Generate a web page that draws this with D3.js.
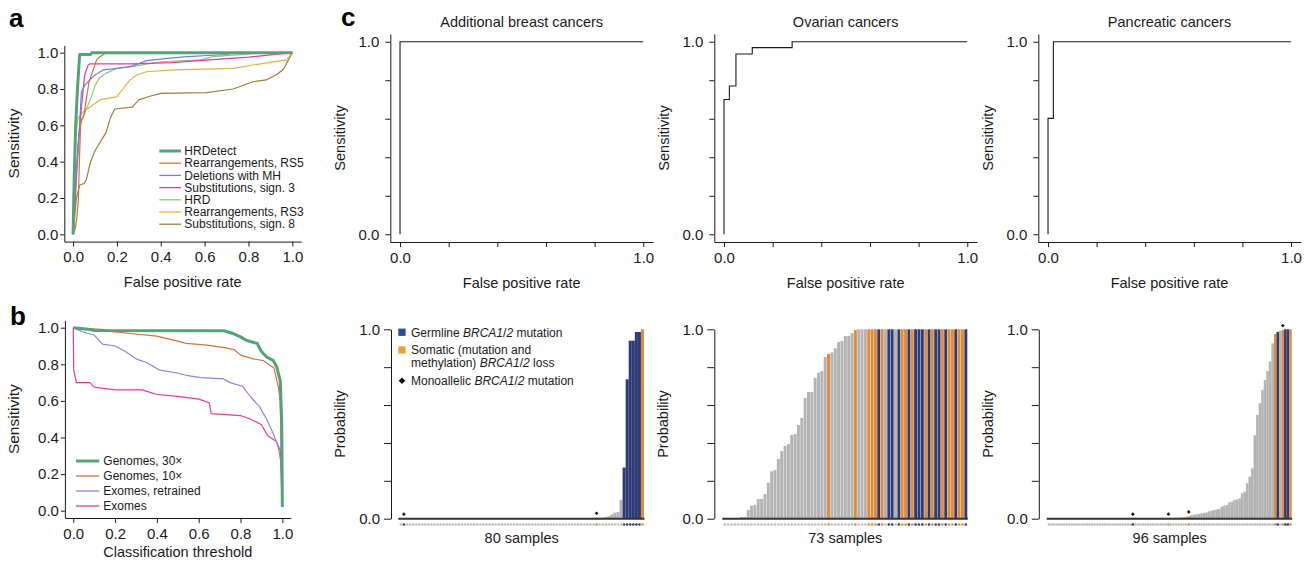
<!DOCTYPE html>
<html>
<head>
<meta charset="utf-8">
<script src="https://cdn.jsdelivr.net/npm/d3@7"></script>
<style>
  body { margin: 0; background: #fff; }
  svg { font-family: "Liberation Sans", Arial, Helvetica, sans-serif; }
  .axis text { font-size: 15px; fill: #1a1a1a; }
  .axis path, .axis line { stroke: #1a1a1a; stroke-width: 1; }
  .lab { font-size: 14.5px; fill: #1a1a1a; }
  .leg { font-size: 12px; fill: #1a1a1a; }
  .panel { font-size: 26px; font-weight: bold; fill: #000; }
</style>
</head>
<body>
<svg id="fig" width="1314" height="562"></svg>
<script>
// ---- a: ROC curves, [false positive rate, sensitivity]
const rocHRDetect = [[0,0],[0.005,0.3],[0.012,0.6],[0.02,0.8],[0.03,0.99],[0.08,0.99],[0.085,1],[1,1]];
const rocRS5 = [[0,0],[0.01,0.03],[0.018,0.1],[0.024,0.19],[0.03,0.45],[0.035,0.62],[0.05,0.66],[0.06,0.74],[0.073,0.84],[0.09,0.9],[0.107,0.96],[0.12,0.975],[0.15,1],[1,1]];
const rocDelMH = [[0,0],[0.008,0.2],[0.015,0.35],[0.026,0.52],[0.038,0.785],[0.053,0.82],[0.076,0.85],[0.1,0.877],[0.137,0.905],[0.2,0.914],[0.26,0.923],[0.3,0.94],[0.335,0.956],[0.43,0.969],[0.52,0.978],[0.7,0.99],[0.72,0.996],[1,1]];
const rocSub3 = [[0,0],[0.01,0.2],[0.023,0.5],[0.043,0.76],[0.053,0.877],[0.068,0.93],[0.076,0.938],[0.27,0.938],[0.45,0.945],[0.62,0.96],[0.8,0.975],[1,1]];
const rocHRD = [[0,0],[0.015,0.3],[0.03,0.59],[0.053,0.666],[0.084,0.758],[0.1,0.82],[0.12,0.86],[0.15,0.886],[0.2,0.914],[0.27,0.923],[0.4,0.95],[0.58,0.96],[0.64,0.978],[0.88,1],[1,1]];
const rocRS3 = [[0,0],[0.003,0.33],[0.012,0.556],[0.023,0.64],[0.046,0.675],[0.076,0.7],[0.122,0.74],[0.167,0.75],[0.2,0.758],[0.22,0.79],[0.26,0.85],[0.29,0.877],[0.335,0.895],[0.46,0.905],[0.73,0.914],[0.82,0.932],[0.974,0.96],[1,1]];
const rocSub8 = [[0,0],[0.008,0.1],[0.015,0.2],[0.03,0.27],[0.05,0.28],[0.06,0.3],[0.08,0.4],[0.1,0.46],[0.13,0.52],[0.15,0.56],[0.17,0.64],[0.19,0.69],[0.27,0.7],[0.3,0.74],[0.35,0.76],[0.4,0.776],[0.61,0.78],[0.73,0.8],[0.82,0.84],[0.88,0.85],[0.93,0.88],[0.96,0.91],[1,1]];
const namesA = ["HRDetect", "Rearrangements, RS5", "Deletions with MH", "Substitutions, sign. 3", "HRD", "Rearrangements, RS3", "Substitutions, sign. 8"];

// ---- b: sensitivity vs classification threshold
const thrGenomes30 = [[0,1],[0.08,0.99],[0.1,0.985],[0.72,0.984],[0.76,0.97],[0.8,0.95],[0.83,0.93],[0.88,0.914],[0.9,0.87],[0.925,0.84],[0.957,0.82],[0.973,0.787],[0.99,0.71],[0.997,0.48],[1,0.02]];
const thrGenomes10 = [[0,1],[0.15,0.99],[0.19,0.978],[0.4,0.954],[0.45,0.94],[0.54,0.914],[0.64,0.905],[0.73,0.89],[0.77,0.88],[0.8,0.85],[0.86,0.83],[0.91,0.82],[0.96,0.78],[0.98,0.68],[0.99,0.6],[1,0.02]];
const thrExomesRetrained = [[0,1],[0.05,0.975],[0.1,0.96],[0.14,0.91],[0.2,0.9],[0.25,0.87],[0.3,0.83],[0.35,0.81],[0.41,0.77],[0.49,0.754],[0.54,0.74],[0.61,0.727],[0.72,0.72],[0.75,0.7],[0.81,0.68],[0.85,0.62],[0.89,0.57],[0.925,0.5],[0.957,0.42],[0.98,0.35],[0.997,0.24],[1,0.02]];
const thrExomes = [[0,1],[0.002,0.77],[0.015,0.7],[0.08,0.7],[0.1,0.675],[0.2,0.66],[0.33,0.66],[0.4,0.635],[0.5,0.625],[0.6,0.61],[0.65,0.59],[0.66,0.53],[0.8,0.52],[0.85,0.5],[0.9,0.47],[0.93,0.41],[0.97,0.38],[0.99,0.33],[1,0.02]];
const namesB = ["Genomes, 30\u00d7", "Genomes, 10\u00d7", "Exomes, retrained", "Exomes"];

// ---- c: validation cohorts
const titlesC = ["Additional breast cancers", "Ovarian cancers", "Pancreatic cancers"];
const rocBreast = [[0,0],[0,1],[1,1]];
const rocOvarian = [[0,0],[0,0.7],[0.022,0.77],[0.049,0.936],[0.116,0.969],[0.28,1],[1,1]];
const rocPancreatic = [[0,0],[0,0.602],[0.022,1],[1,1]];

const probBreast = [0,0,0,0,0,0,0,0,0,0, 0,0,0,0,0,0,0,0,0,0, 0,0,0,0,0,0,0,0,0,0, 0,0,0,0,0,0,0,0,0,0,
  0,0,0,0,0,0,0,0,0,0, 0,0,0,0,0,0,0,0,0,0, 0,0,0,0.003,0.005,0.005,0.006,0.008,0.014,0.023,
  0.032,0.035,0.1,0.27,0.736,0.94,0.94,0.986,0.986,1.0];
const germBreast = [1,73,74,75,76,77,78];
const somBreast = [64,79];
const monoBreast = [1,64];

const probOvarian = [0,0,0,0,0.003,0.009,0.009,0.046,0.069,0.072, 0.104,0.104,0.13,0.19,0.25,0.257,0.315,0.357,0.384,0.394,
  0.442,0.447,0.495,0.532,0.637,0.669,0.669,0.743,0.771,0.78, 0.854,0.87,0.878,0.9,0.933,0.938,0.965,0.965,0.98,0.996,
  1,1,1,1,1,1,1,1,1,1, 1,1,1,1,1,1,1,1,1,1, 1,1,1,1,1,1,1,1,1,1, 1,1,1];
const germOvarian = [46,49,50,52,55,57,58,59,61,63,64,66,69,72];
const somOvarian = [31,39,43,44,45,47,53,54,56,60,62,65,67,68,70,71];
const monoOvarian = [];

const probPancreatic = [0,0,0,0,0,0,0,0,0,0, 0,0,0,0,0,0,0,0,0,0, 0,0,0,0,0,0,0,0,0,0, 0,0,0,0,0,0,0,0,0,0,
  0,0,0,0,0,0,0,0,0,0.004, 0.005,0.005,0.006,0.008,0.01,0.012,0.018,0.021,0.023,0.025,
  0.028,0.03,0.033,0.039,0.042,0.046,0.049,0.051,0.063,0.069, 0.072,0.086,0.09,0.099,0.102,0.107,0.134,0.143,0.187,0.222,
  0.266,0.44,0.548,0.61,0.68,0.732,0.78,0.83,0.926,0.975, 0.986,0.993,0.996,1,1,1];
const germPancreatic = [33,90,93,94];
const somPancreatic = [47,55,89,92,95];
const monoPancreatic = [33,47,55,92];

const svg = d3.select("#fig");
const fmt = d3.format(".1f");
const ticks6 = [0, 0.2, 0.4, 0.6, 0.8, 1];
const edgeFmt = d => (d === 0 || d === 1) ? fmt(d) : "";
// diamond = square turned by 45 degrees
const diamond = s => d3.symbol(d3.symbolSquare).size(s)();

function label(x, y, text, rotate) {
  const t = svg.append("text").attr("class", "lab").attr("text-anchor", "middle").text(text);
  if (rotate) t.attr("transform", `translate(${x},${y}) rotate(-90)`);
  else t.attr("x", x).attr("y", y);
  return t;
}

// R style axes: plot region padded 4% around [0,1]
function rocFrame(left, right, top, bottom, opts) {
  const x = d3.scaleLinear().domain([-0.04, 1.04]).range([left, right]);
  const y = d3.scaleLinear().domain([-0.04, 1.04]).range([bottom, top]);
  svg.append("g").attr("class", "axis")
    .attr("transform", `translate(0,${bottom})`)
    .call(d3.axisBottom(x).tickValues(ticks6).tickFormat(opts.xfmt).tickSize(5).tickSizeOuter(0).tickPadding(5));
  svg.append("g").attr("class", "axis")
    .attr("transform", `translate(${left},0)`)
    .call(d3.axisLeft(y).tickValues(ticks6).tickFormat(opts.yfmt).tickSize(opts.ytick).tickSizeOuter(0).tickPadding(opts.ypad));
  return {x, y};
}

// ---------- panel a
const colA = ["#55a276", "#d4713d", "#7a7ad6", "#e6399b", "#8dc77b", "#e3b33f", "#a07c3c"];
const seriesA = [rocHRDetect, rocRS5, rocDelMH, rocSub3, rocHRD, rocRS3, rocSub8];
{
  const {x, y} = rocFrame(64.3, 301.1, 45.4, 241.6, {xfmt: fmt, yfmt: fmt, ytick: 4, ypad: 2});
  const line = d3.line().x(d => x(d[0])).y(d => y(d[1]));
  for (let i = seriesA.length - 1; i >= 0; i--) {
    svg.append("path").datum(seriesA[i]).attr("d", line)
      .attr("fill", "none").attr("stroke", colA[i]).attr("stroke-width", i === 0 ? 3 : 1.2)
      .attr("stroke-linejoin", "round");
  }
  namesA.forEach((n, i) => {
    const yy = 151 + 12.2 * i;
    svg.append("line").attr("x1", 159.3).attr("x2", 181).attr("y1", yy).attr("y2", yy)
      .attr("stroke", colA[i]).attr("stroke-width", i === 0 ? 3 : 1.3);
    svg.append("text").attr("class", "leg").attr("x", 184.3).attr("y", yy).attr("dy", "0.35em").text(n);
  });
  label(x(0.5), 287, "False positive rate");
  label(19, y(0.5), "Sensitivity", true).style("font-size", "15.5px");
  svg.append("text").attr("class", "panel").attr("x", 9).attr("y", 27).text("a");
}

// ---------- panel b
const colB = ["#55a276", "#d4713d", "#8787d8", "#e6399b"];
const seriesB = [thrGenomes30, thrGenomes10, thrExomesRetrained, thrExomes];
{
  const {x, y} = rocFrame(64.9, 290.7, 320.4, 518, {xfmt: fmt, yfmt: fmt, ytick: 4, ypad: 2});
  const line = d3.line().x(d => x(d[0])).y(d => y(d[1]));
  for (let i = seriesB.length - 1; i >= 0; i--) {
    svg.append("path").datum(seriesB[i]).attr("d", line)
      .attr("fill", "none").attr("stroke", colB[i]).attr("stroke-width", i === 0 ? 3 : 1.2)
      .attr("stroke-linejoin", "round");
  }
  namesB.forEach((n, i) => {
    const yy = 461 + 15 * i;
    svg.append("line").attr("x1", 76).attr("x2", 99.3).attr("y1", yy).attr("y2", yy)
      .attr("stroke", colB[i]).attr("stroke-width", i === 0 ? 3 : 1.3);
    svg.append("text").attr("class", "leg").attr("x", 103.3).attr("y", yy).attr("dy", "0.35em").text(n);
  });
  label(x(0.5), 557, "Classification threshold");
  label(19, y(0.5), "Sensitivity", true).style("font-size", "15.5px");
  svg.append("text").attr("class", "panel").attr("x", 10).attr("y", 325).text("b");
}

// ---------- panel c, top: ROC
const framesC = [[390.3, 653], [714.3, 977], [1038.3, 1300.7]];
const rocsC = [rocBreast, rocOvarian, rocPancreatic];
framesC.forEach((f, i) => {
  const {x, y} = rocFrame(f[0], f[1], 34, 242, {xfmt: edgeFmt, yfmt: edgeFmt, ytick: 5, ypad: 6});
  svg.append("path").datum(rocsC[i])
    .attr("d", d3.line().x(d => x(d[0])).y(d => y(d[1])).curve(d3.curveStepAfter))
    .attr("fill", "none").attr("stroke", "#1a1a1a").attr("stroke-width", 1.1);
  label(x(0.5), 27, titlesC[i]);
  label(x(0.5), 288, "False positive rate");
  label(f[0] - 45, y(0.5), "Sensitivity", true);
});
svg.append("text").attr("class", "panel").attr("x", 341).attr("y", 26).text("c");

// ---------- panel c, bottom: probabilities per sample
const colStatus = {g: "#2f3a76", s: "#e08b38", n: "#b3b3b3"};
const dotStatus = {g: "#2f3a76", s: "#e08b38", n: "#bdbdbd"};
const barsC = [
  {prob: probBreast, germ: germBreast, som: somBreast, mono: monoBreast, axisX: 391, range: [399.3, 644], pad: 0},
  {prob: probOvarian, germ: germOvarian, som: somOvarian, mono: monoOvarian, axisX: 714.3, range: [723.3, 967.3], pad: 0.12},
  {prob: probPancreatic, germ: germPancreatic, som: somPancreatic, mono: monoPancreatic, axisX: 1038.8, range: [1047.7, 1291.7], pad: 0}
];
const yP = d3.scaleLinear().domain([0, 1]).range([518.7, 329.3]);
barsC.forEach(c => {
  const x = d3.scaleBand().domain(d3.range(c.prob.length)).range(c.range).paddingInner(c.pad);
  const status = i => c.germ.includes(i) ? "g" : c.som.includes(i) ? "s" : "n";
  const g = svg.append("g");
  g.selectAll("rect").data(c.prob).join("rect")
    .attr("x", (d, i) => x(i)).attr("width", x.bandwidth())
    .attr("y", d => yP(d)).attr("height", d => yP(0) - yP(d))
    .attr("fill", (d, i) => colStatus[status(i)]);
  g.append("line").attr("x1", c.range[0] - 1).attr("x2", c.range[1] + 0.5)
    .attr("y1", yP(0)).attr("y2", yP(0)).attr("stroke", "#333").attr("stroke-width", 2);
  g.selectAll("circle").data(c.prob).join("circle")
    .attr("cx", (d, i) => x(i) + x.bandwidth() / 2).attr("cy", 524.5).attr("r", 1.3)
    .attr("fill", (d, i) => dotStatus[status(i)]);
  g.selectAll("path.mono").data(c.mono).join("path").attr("class", "mono")
    .attr("d", diamond(7))
    .attr("transform", i => `translate(${x(i) + x.bandwidth() / 2},${yP(c.prob[i]) - 4.5}) rotate(45)`)
    .attr("fill", "#111");
  svg.append("g").attr("class", "axis")
    .attr("transform", `translate(${c.axisX},0)`)
    .call(d3.axisLeft(yP).tickValues(ticks6).tickFormat(edgeFmt).tickSize(7).tickSizeOuter(0).tickPadding(4));
  label((c.range[0] + c.range[1]) / 2, 543, c.prob.length + " samples");
  label(c.axisX - 46, yP(0.5), "Probability", true);
});

// legend for the bar panels
{
  const lg = svg.append("g");
  lg.append("rect").attr("x", 398.3).attr("y", 328.6).attr("width", 7.3).attr("height", 7.3).attr("fill", "#2e4b9b");
  lg.append("rect").attr("x", 398.3).attr("y", 346.3).attr("width", 7.3).attr("height", 7.3).attr("fill", "#e8a03a");
  lg.append("path").attr("d", diamond(22))
    .attr("transform", "translate(402,380.7) rotate(45)").attr("fill", "#111");
  const row = (y, parts) => {
    const t = lg.append("text").attr("class", "leg").attr("x", 411).attr("y", y).attr("dy", "0.35em");
    parts.forEach(p => t.append("tspan").style("font-style", p[1] ? "italic" : "normal").text(p[0]));
  };
  row(332.3, [["Germline ", 0], ["BRCA1", 1], ["/", 0], ["2", 1], [" mutation", 0]]);
  row(350, [["Somatic (mutation and", 0]]);
  row(362.5, [["methylation) ", 0], ["BRCA1", 1], ["/", 0], ["2", 1], [" loss", 0]]);
  row(380.7, [["Monoallelic ", 0], ["BRCA1", 1], ["/", 0], ["2", 1], [" mutation", 0]]);
}
</script>
</body>
</html>
